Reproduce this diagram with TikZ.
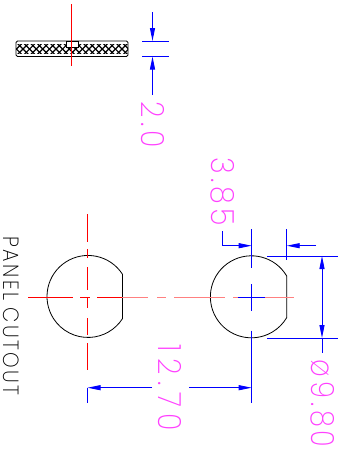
\documentclass[tikz,border=0pt]{standalone}
\usepackage{fontspec}
\usetikzlibrary{arrows.meta}
\newfontfamily\cadfont{Poppins}[UprightFont={* ExtraLight}, LetterSpace=14]
\newfontfamily\cadwide{Poppins}[UprightFont={* ExtraLight}, LetterSpace=22]
\newfontfamily\cadlabel{Poppins}[UprightFont={* ExtraLight}, LetterSpace=12]
\definecolor{axisred}{RGB}{255,0,0}
\definecolor{axispale}{RGB}{255,128,128}
\definecolor{dimblue}{RGB}{0,0,255}
\definecolor{dimpink}{RGB}{255,64,255}
\tikzset{
	outline/.style={black, line width=0.8pt},
	axisline/.style={color=axisred, line width=1pt},
	axisfaint/.style={color=axispale, line width=1.6pt},
	dimline/.style={draw=dimblue, line width=0.9pt},
	dimarrow/.style={dimline, -{Triangle[length=13pt,width=5pt]}},
	dimtext/.style={text=dimpink, inner sep=0pt, rotate=-90, font=\fontsize{32}{32}\selectfont},
	paneltext/.style={text=black, inner sep=0pt, rotate=-90, font=\fontsize{22}{22}\selectfont},
}
\begin{document}
\begin{tikzpicture}[x=1pt, y=-1pt]

	\useasboundingbox (0,0) rectangle (344,456);

	% side view
	\coordinate (A) at (16,41);
	\coordinate (B) at (128,56.5);
	\coordinate (N) at (66,41);
	\coordinate (P) at (78.5,47.5);

	\begin{scope}
	\clip (16,44.5) rectangle (128,53.5);
	\foreach \i in {-2,...,20} {
		\draw [black, line width=1.2pt] (16+\i*6.6,42) -- +(14,14);
		\draw [black, line width=1.2pt] (30+\i*6.6,42) -- +(-14,14);
	}
	\end{scope}
	\draw [outline, rounded corners=1.5pt] (A) rectangle (B);
	\draw [outline, fill=white] (N) rectangle (P);
	\draw [axisline] (71.5,4) -- (71.5,66);

	\coordinate (C) at (142,41);
	\coordinate (D) at (169,41);
	\coordinate (E) at (142,56.5);
	\coordinate (F) at (169,56.5);
	\draw [dimline] (C) -- (D);
	\draw [dimline] (E) -- (F);
	\draw [dimarrow] (152.5,12) -- (152.5,41);
	\draw [dimarrow] (152.5,95) -- (152.5,56.5);
	\node [dimtext] (W) at (152.5,125) {\cadfont\scalebox{.9}[1]{2.0}};

	% left cutout
	\coordinate (L) at (87.5,296.5);
	\draw [outline] (122.5,274.3) arc (327.3:32.7:41) -- cycle;
	\foreach \a/\b in {214/242, 249/258, 267/290, 297/308, 318/335, 343/370}
		\draw [axisline] (87.5,\a) -- (87.5,\b);

	% right cutout
	\coordinate (R) at (251.7,297);
	\draw [outline] (286.7,276) arc (329.5:30.5:41) -- cycle;

	% centre line
	\foreach \a/\b in {28/72.7, 80/90, 97/122}
		\draw [axisline] (\a,297.5) -- (\b,297.5);
	\foreach \a/\b in {122/148, 157/166, 174/225, 233/243, 250/294}
		\draw [axisfaint] (\a,297.5) -- (\b,297.5);

	% centre cross
	\draw [dimline] (251.7,284) -- (251.7,310.7);
	\draw [dimline] (238,297) -- (265,297);

	% pitch
	\draw [dimline] (87.5,387.7) -- (87.5,403);
	\draw [dimline] (251.7,330.7) -- (251.7,403);
	\draw [dimarrow] (152,387.7) -- (87.5,387.7);
	\draw [dimarrow] (189,387.7) -- (251.7,387.7);
	\node [dimtext] (X) at (169.5,387.7) {\cadwide\scalebox{.9}[1]{12.70}};

	% flat
	\draw [dimline] (251.7,229) -- (251.7,267.7);
	\draw [dimline] (286.7,229) -- (286.7,260);
	\draw [dimarrow] (222.5,231) -- (222.5,245.7) -- (251.7,245.7);
	\draw [dimarrow] (316,245.7) -- (286.7,245.7);
	\node [dimtext] (Y) at (222.5,191.5) {\cadfont\scalebox{.9}[1]{3.85}};

	% diameter
	\draw [dimline] (267.3,256) -- (338,256);
	\draw [dimline] (267.3,338) -- (338,338);
	\draw [dimarrow] (322,300) -- (322,256);
	\draw [dimarrow] (322,300) -- (322,338);
	\draw [dimline] (322,338) -- (322,352.7);
	\node [dimtext] (Z) at (322.5,403.5) {\cadfont\scalebox{.86}[1]{ø9.80}};

	\node [paneltext] (T) at (11.5,316) {\cadlabel\scalebox{.9}[1]{PANEL\hspace{8pt}CUTOUT}};

\end{tikzpicture}
\end{document}
